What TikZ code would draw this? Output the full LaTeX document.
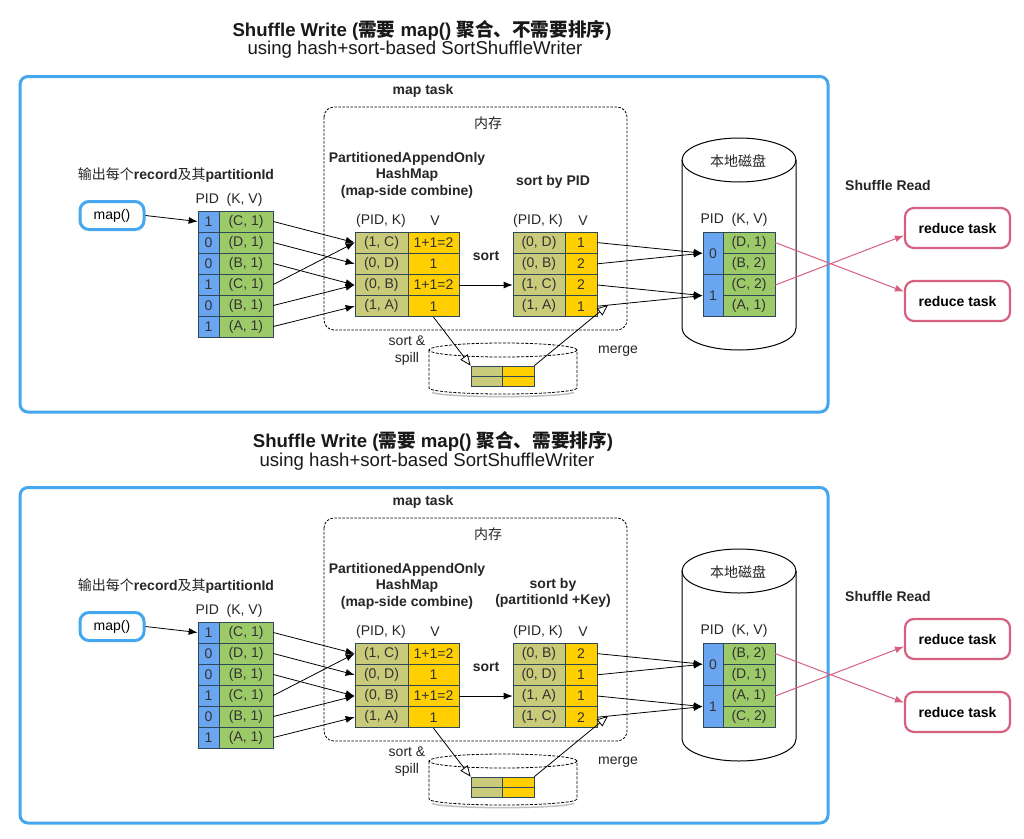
\documentclass[tikz,border=0pt]{standalone}
\usepackage{fontspec}
\setmainfont{Liberation Sans}
\newfontfamily\cjk{Noto Sans CJK SC}
\usetikzlibrary{arrows.meta}

\definecolor{boxblue}{HTML}{45A8EE}
\definecolor{pidblue}{HTML}{6AA5F2}
\definecolor{kvgreen}{HTML}{9DCA69}
\definecolor{keyolive}{HTML}{C9CB7A}
\definecolor{valgold}{HTML}{FFCF00}
\definecolor{redpink}{HTML}{D6607F}
\definecolor{cellline}{HTML}{2F4858}

\tikzset{
  cell/.style={draw=cellline, line width=0.7pt, inner sep=0pt, minimum height=21.2pt,
    text=black!80, font=\fontsize{14}{16}\selectfont},
  pidcell/.style={cell, fill=pidblue, minimum width=21pt},
  kvcell/.style={cell, fill=kvgreen, minimum width=53pt},
  keycell/.style={cell, fill=keyolive, minimum width=53pt},
  valcell/.style={cell, fill=valgold, minimum width=51pt},
  plain/.style={inner sep=1pt, text=black!85, font=\fontsize{14}{16.5}\selectfont, align=center},
  bold/.style={plain, font=\bfseries\fontsize{14}{16.5}\selectfont},
  mapbox/.style={draw=boxblue, line width=3pt, rounded corners=9pt, minimum width=64pt,
    minimum height=28pt, font=\fontsize{14}{16}\selectfont},
  reduce/.style={draw=redpink, line width=2.2pt, rounded corners=9pt, minimum width=105pt,
    minimum height=40pt, font=\bfseries\fontsize{14}{16}\selectfont},
  arr/.style={-{Latex[length=9pt,width=7pt]}, line width=0.8pt},
  opentip/.style={-{Triangle[open,length=11pt,width=9pt]}, line width=0.8pt},
  pinkarr/.style={redpink, line width=1pt, -{Latex[length=9pt,width=7pt]}},
  memline/.style={dash pattern=on 2.5pt off 1.5pt, line width=0.8pt, rounded corners=10pt},
  titletext/.style={font=\bfseries\fontsize{18.6}{21}\selectfont, text=black!90},
  subtitle/.style={font=\fontsize{18.6}{21}\selectfont, text=black!90}
}

% one map task panel: #1 sort label, #2 sorted rows, #3 disk rows
\newcommand{\shufflepanel}[3]{%
  \draw[boxblue, line width=3pt, rounded corners=8pt] (20,76.5) rectangle (828,412);
  \draw[memline] (324,107) rectangle (627,330);
  \node[bold] (maptask) at (423,91) {map task};
  \node[plain] (mem) at (488,123) {\cjk 内存};
  \node[plain] (outlabel) at (176,175) {{\cjk 输出每个}\textbf{record}{\cjk 及其}\textbf{partitionId}};
  % map() and its records
  \node[mapbox] (map) at (112,215.5) {map()};
  \node[plain] (inhead) at (229,200) {PID\ \ (K, V)};
  \foreach [count=\i] \p/\k in {1/C,0/D,0/B,1/C,0/B,1/A} {
    \node[pidcell, minimum height=21pt] (inP\i) at (208.5,{221.5+21*(\i-1)}) {\p};
    \node[kvcell, minimum height=21pt, minimum width=54pt] (inK\i) at (246,{221.5+21*(\i-1)}) {(\k, 1)};
  }
  \draw[arr] (map.east) -- (inP1.west);
  % hash map
  \node[bold] (hmtitle) at (407,175) {PartitionedAppendOnly\\HashMap\\(map-side combine)};
  \node[plain] (hmhead) at (381,221) {(PID, K)};
  \node[plain] (hmheadv) at (435,221) {V};
  \foreach [count=\i] \p/\k/\v in {1/C/1+1=2,0/D/1,0/B/1+1=2,1/A/1} {
    \node[keycell] (hmK\i) at (381.5,{242.6+21.2*(\i-1)}) {(\p, \k)};
    \node[valcell] (hmV\i) at (433.5,{242.6+21.2*(\i-1)}) {\v};
  }
  \foreach \a/\b in {1/1,2/2,3/3,4/1,5/3,6/4}
    \draw[arr] (inK\a.east) -- (hmK\b.west);
  % sorted
  \node[bold] (sortby) at (553,182) {#1};
  \node[plain] (sthead) at (538,221) {(PID, K)};
  \node[plain] (stheadv) at (583,221) {V};
  \foreach [count=\i] \p/\k/\v in {#2} {
    \node[keycell, minimum width=52pt] (stK\i) at (539,{242.6+21.2*(\i-1)}) {(\p, \k)};
    \node[valcell, minimum width=32pt] (stV\i) at (581,{242.6+21.2*(\i-1)}) {\v};
  }
  \node[bold] (sortlbl) at (486,256) {sort};
  \draw[arr] (hmV3.east) -- (stK3.west);
  % spill file
  \draw[dash pattern=on 3pt off 1.5pt, line width=0.8pt, fill=white]
    (429,350) -- (429,388) arc[start angle=180, end angle=360, x radius=74pt, y radius=6pt] -- (577,350);
  \draw[black!25, line width=1.5pt] (432,392.5) arc[start angle=190, end angle=350, x radius=72pt, y radius=5pt];
  \draw[dash pattern=on 3pt off 1.5pt, line width=0.8pt] (503,350) ellipse[x radius=74pt, y radius=7pt];
  \foreach \i in {1,2} {
    \node[keycell, minimum width=31pt, minimum height=10pt] (spK\i) at (486.5,{371+10*(\i-1)}) {};
    \node[valcell, minimum width=32pt, minimum height=10pt] (spV\i) at (518,{371+10*(\i-1)}) {};
  }
  \node[plain] (spilllbl) at (407,350.5) {sort \&\\spill};
  \node[plain] (mergelbl) at (618,351) {merge};
  \coordinate (mergeend) at (608,305);
  \draw[opentip] (hmV4.south) -- (spK1.north west);
  \draw[opentip] (spV1.north east) -- (mergeend);
  % local disk
  \draw[line width=1pt, fill=white] (682,160) -- (682,328)
    arc[start angle=180, end angle=360, x radius=57pt, y radius=22pt] -- (796,160);
  \draw[line width=1pt] (739,160) ellipse[x radius=57pt, y radius=22pt];
  \node[plain] (disk) at (738,161) {\cjk 本地磁盘};
  \node[plain] (dkhead) at (734,220) {PID\ \ (K, V)};
  \node[pidcell, minimum width=20pt, minimum height=42.4pt] (dP0) at (713,253.2) {0};
  \node[pidcell, minimum width=20pt, minimum height=42.4pt] (dP1) at (713,295.6) {1};
  \foreach [count=\i] \k/\v in {#3}
    \node[kvcell, minimum width=52pt] (dkK\i) at (749,{242.6+21.2*(\i-1)}) {(\k, \v)};
  \foreach \a/\b in {1/0,2/0,3/1,4/1}
    \draw[arr] (stV\a.east) -- (dP\b.west);
  % shuffle read
  \node[bold] (readlbl) at (888,185) {Shuffle Read};
  \node[reduce] (red1) at (957.5,228) {reduce task};
  \node[reduce] (red2) at (957.5,301) {reduce task};
  \draw[pinkarr] (dkK1.east) -- (red2.170);
  \draw[pinkarr] (dkK3.east) -- (red1.188);
}

\begin{document}
\begin{tikzpicture}[x=1pt,y=-1pt]
\useasboundingbox[fill=white] (0,0) rectangle (1024,838);

\node[titletext] (title1) at (422,30) {Shuffle Write ({\cjk 需要} map() {\cjk 聚合、不需要排序})};
\node[subtitle] (sub1) at (415,50) {using hash+sort-based SortShuffleWriter};
\shufflepanel{sort by PID}{0/D/1,0/B/2,1/C/2,1/A/1}{D/1,B/2,C/2,A/1}

\node[titletext] (title2) at (433,441) {Shuffle Write ({\cjk 需要} map() {\cjk 聚合、需要排序})};
\node[subtitle] (sub2) at (427,462) {using hash+sort-based SortShuffleWriter};
\begin{scope}[yshift=-411pt]
\shufflepanel{sort by\\(partitionId +Key)}{0/B/2,0/D/1,1/A/1,1/C/2}{B/2,D/1,A/1,C/2}
\end{scope}
\end{tikzpicture}
\end{document}
